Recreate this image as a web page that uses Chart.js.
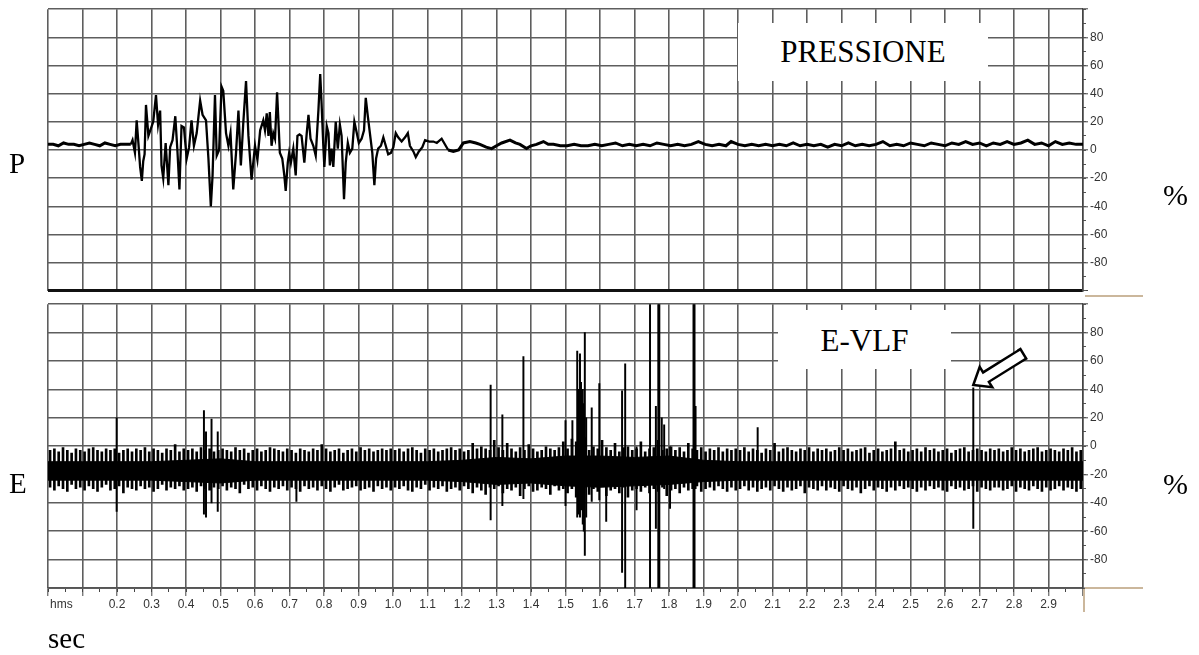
<!DOCTYPE html>
<html>
<head>
<meta charset="utf-8">
<script src="https://cdn.jsdelivr.net/npm/chart.js@4.4.1/dist/chart.umd.min.js"></script>
<style>
    html, body { margin: 0; padding: 0; background: #fff; }
    #page { position: relative; width: 1199px; height: 655px; overflow: hidden;
            font-family: "Liberation Serif", "Times New Roman", serif; color: #000; }
    canvas { position: absolute; left: 0; }
    #chartP { top: 0; }
    #chartE { top: 295px; }
    .lbl { position: absolute; font-size: 29px; line-height: 1; white-space: nowrap; }
    .box { position: absolute; background: #fff; text-align: center; font-size: 31px; }
    .tan { position: absolute; background: #cbb79c; }
    .hms { position: absolute; font: 12px "Liberation Sans", Arial, sans-serif; color: #333; }
</style>
</head>
<body>
<div id="page">
    <canvas id="chartP" width="1199" height="300"></canvas>
    <canvas id="chartE" width="1199" height="360"></canvas>

    <div class="box" style="left:738px; top:23px; width:250px; height:58px; line-height:58px;">PRESSIONE</div>
    <div class="box" style="left:778px; top:310px; width:173px; height:59px; line-height:61px;">E-VLF</div>

    <svg style="position:absolute; left:0; top:0;" width="1199" height="655">
        <polygon points="973.3,385 979.7,366.9 983.1,372.4 1020.4,349.1 1026.2,358.5 988.9,381.8 992.3,387.3"
                 fill="#fff" stroke="#000" stroke-width="2.5" stroke-linejoin="miter"/>
    </svg>

    <div class="tan" style="left:1085px; top:295px; width:58px; height:2px;"></div>
    <div class="tan" style="left:1085px; top:587px; width:58px; height:2px;"></div>
    <div class="tan" style="left:1083px; top:589px; width:2px; height:23px;"></div>

    <div class="lbl" style="left:9px; top:149px;">P</div>
    <div class="lbl" style="left:9px; top:469px;">E</div>
    <div class="lbl" style="left:1163px; top:180px; font-size:30px;">%</div>
    <div class="lbl" style="left:1163px; top:469px; font-size:30px;">%</div>
    <div class="lbl" style="left:48px; top:624px;">sec</div>
    <div class="hms" style="left:50px; top:597px;">hms</div>
</div>

<script>
// ---- data ----------------------------------------------------------------

// Pressure (%), [time s, value]
const pressQuiet = [
    [0.000,4],[0.015,4],[0.030,3],[0.045,5],[0.060,4],[0.075,4],[0.090,3],[0.105,4],
    [0.120,5],[0.135,4],[0.150,3],[0.165,5],[0.180,4],[0.195,3],[0.210,4],[0.225,4],[0.240,4]
];

const pressBurst = [
    [0.245,7],[0.252,-2],[0.257,21],[0.262,5],[0.267,-12],[0.272,-22],[0.276,-8],[0.280,-3],
    [0.284,32],[0.291,10],[0.298,15],[0.305,20],[0.313,39],[0.319,18],[0.325,28],[0.329,-11],
    [0.334,-20],[0.341,5],[0.349,-25],[0.354,2],[0.361,7],[0.369,24],[0.375,0],[0.381,-28],
    [0.387,17],[0.394,16],[0.402,-6],[0.409,2],[0.416,21],[0.423,3],[0.431,12],[0.441,35],
    [0.448,25],[0.458,21],[0.465,-6],[0.472,-40],[0.477,-18],[0.484,39],[0.489,-4],[0.496,0],
    [0.503,45],[0.508,42],[0.516,12],[0.523,3],[0.529,12],[0.537,-28],[0.545,-2],[0.552,28],
    [0.559,-11],[0.566,19],[0.574,49],[0.581,10],[0.590,-21],[0.600,3],[0.607,-7],[0.615,14],
    [0.624,21],[0.629,14],[0.634,26],[0.639,10],[0.643,27],[0.648,3],[0.653,12],[0.658,8],
    [0.664,41],[0.668,20],[0.672,-2],[0.679,-6],[0.685,-18],[0.689,-29],[0.695,-9],[0.699,-2],
    [0.704,-9],[0.711,1],[0.718,-18],[0.723,10],[0.729,11],[0.735,10],[0.743,-9],[0.750,12],
    [0.755,25],[0.761,8],[0.769,3],[0.776,-4],[0.784,29],[0.789,54],[0.793,33],[0.798,3],
    [0.801,-12],[0.808,17],[0.813,12],[0.817,-11],[0.822,1],[0.827,-12],[0.834,20],[0.840,1],
    [0.846,18],[0.851,10],[0.858,-35],[0.863,-9],[0.869,5],[0.875,-2],[0.882,1],[0.888,20],
    [0.895,12],[0.901,5],[0.909,8],[0.916,14],[0.921,37],[0.927,24],[0.933,12],[0.940,-2],
    [0.946,-25],[0.951,-6],[0.957,1],[0.965,3],[0.972,9],[0.979,3],[0.986,-3],[0.994,-2],
    [1.001,2],[1.008,12],[1.015,9],[1.025,6],[1.035,9],[1.043,12],[1.049,3],[1.059,-1],
    [1.066,-5],[1.075,-1],[1.085,2],[1.093,7],[1.105,6],[1.117,6],[1.127,5],[1.141,8]
];

const pressTail = [
    [1.160,0],[1.175,-1],[1.190,0],[1.204,5],[1.223,6],[1.240,5],[1.252,4],[1.270,2],
    [1.286,1],[1.300,3],[1.315,5],[1.339,7],[1.355,5],[1.368,4],[1.387,1],[1.400,3],
    [1.416,4],[1.436,6],[1.450,4],[1.465,4],[1.485,3],[1.505,3],[1.525,4],[1.545,3],
    [1.565,3],[1.585,4],[1.605,3],[1.625,4],[1.645,5],[1.665,3],[1.685,4],[1.705,3],
    [1.725,4],[1.745,3],[1.765,5],[1.785,4],[1.805,3],[1.825,4],[1.845,3],[1.865,4],
    [1.885,6],[1.905,4],[1.925,3],[1.945,4],[1.965,3],[1.980,6],[2.000,4],[2.020,3],
    [2.040,4],[2.060,3],[2.080,4],[2.100,3],[2.120,4],[2.140,3],[2.160,5],[2.180,3],
    [2.200,4],[2.220,3],[2.240,4],[2.260,2],[2.280,4],[2.300,3],[2.320,5],[2.340,3],
    [2.360,4],[2.380,3],[2.400,4],[2.420,6],[2.440,3],[2.460,4],[2.480,3],[2.500,5],
    [2.520,4],[2.540,3],[2.560,5],[2.580,4],[2.600,3],[2.620,5],[2.640,4],[2.660,6],
    [2.680,4],[2.700,5],[2.720,3],[2.740,5],[2.760,4],[2.780,6],[2.800,4],[2.820,5],
    [2.840,7],[2.860,4],[2.880,5],[2.900,3],[2.920,6],[2.940,4],[2.960,5],[2.980,4],[3.000,4]
];

// E-VLF (%): one oscillation cycle every 12.5 ms, upper and lower peak of each cycle
const evlfStart = 0.006;
const evlfStep = 0.0125;

const evlfTop = [
    -3,-2,-4,-1,-3,-5,-2,-3,-4,-2,-1,-3,-4,-2,-3,-2,-5,-3,-2,-4,
    -2,-3,-1,-4,-2,-3,-5,-2,-3,1,-4,-2,-3,-2,-4,-1,-3,-2,-4,-3,
    -2,-3,-4,-1,-3,-2,-5,-3,-2,-4,-3,-1,-2,-3,-4,-2,-3,-5,-2,-3,
    -4,-2,-3,1,-2,-4,-3,-2,-5,-3,-2,-4,-1,-3,-2,-4,-3,-2,-3,-2,
    -3,-2,-4,-2,-1,-3,-5,-2,-3,-2,-4,-3,-2,-1,-3,-2,-4,-3,2,-2,
    0,-2,-3,4,-1,-3,2,-2,-4,-1,-3,1,-2,-4,-3,0,-2,-3,-1,3,
    -2,5,3,-1,6,-3,0,-2,4,-1,-3,2,-4,-1,0,-3,-2,3,-4,-2,
    -1,4,-3,-2,0,-3,-1,-4,2,-2,-3,-1,-4,-2,-3,-1,-4,-2,-3,-2,
    -3,-1,-4,-2,-3,-5,-2,-3,2,-4,-2,-1,-3,-4,-2,-3,-1,-4,-2,-3,
    -2,-4,-3,-1,-3,-2,-4,-3,-2,-1,-5,-3,-2,-4,-3,-2,3,-3,-2,-4,
    -3,-2,-4,-1,-3,-2,-4,-3,-2,-5,-3,-2,-1,-4,-3,-2,-3,-4,-2,-3,
    -2,-4,-3,-1,-3,-2,-4,-3,-2,-1,-4,-3,-2,-3,-4,-2,-3,-1,-4,-3
];

const evlfBot = [
    -29,-31,-28,-30,-32,-27,-30,-29,-31,-28,-30,-32,-29,-27,-31,-30,-28,-33,-29,-30,
    -31,-28,-30,-29,-32,-30,-27,-31,-29,-30,-28,-31,-30,-29,-32,-28,-30,-31,-29,-30,
    -28,-31,-29,-30,-33,-27,-30,-29,-31,-28,-30,-32,-29,-30,-28,-31,-29,-30,-32,-28,
    -30,-29,-31,-28,-30,-32,-29,-27,-31,-30,-29,-28,-31,-30,-29,-32,-28,-30,-29,-31,
    -29,-30,-28,-31,-32,-29,-30,-27,-31,-29,-30,-28,-32,-30,-29,-31,-28,-30,-33,-29,
    -31,-34,-29,-30,-28,-33,-30,-31,-29,-35,-30,-28,-32,-31,-29,-30,-34,-28,-31,-30,
    -33,-30,-36,-31,-29,-34,-30,-32,-28,-35,-31,-30,-33,-29,-36,-31,-30,-32,-29,-33,
    -30,-32,-29,-35,-31,-30,-33,-29,-31,-30,-28,-32,-30,-29,-31,-28,-30,-32,-29,-31,
    -30,-28,-31,-29,-32,-30,-29,-31,-28,-30,-32,-29,-31,-30,-28,-33,-29,-30,-31,-28,
    -31,-29,-30,-32,-28,-30,-31,-29,-33,-30,-28,-31,-29,-30,-32,-29,-31,-28,-30,-29,
    -30,-32,-29,-31,-28,-30,-29,-31,-32,-28,-30,-29,-31,-30,-28,-32,-29,-30,-31,-29,
    -29,-31,-30,-28,-32,-29,-30,-31,-28,-30,-32,-29,-31,-30,-28,-31,-29,-30,-32,-30
];

// dense core of the E-VLF band, sampled every 0.1 s
const evlfCoreHi = [-11,-11,-11,-11,-10,-9,-11,-11,-11,-11,-11,-11,-10,-8,-9,-7,
                    -7,-8,-7,-10,-11,-11,-11,-11,-11,-11,-11,-11,-11,-11,-11];
const evlfCoreLo = [-24,-24,-24,-24,-25,-26,-24,-24,-24,-24,-24,-24,-25,-27,-26,-28,
                    -29,-28,-27,-25,-24,-24,-24,-24,-24,-24,-24,-24,-24,-24,-24];

// isolated E-VLF spikes
const spikeTimes = [0.199,0.452,0.458,0.474,0.492,0.720,1.283,1.317,1.378,1.500,1.520,1.534,1.537,
                    1.542,1.545,1.550,1.553,1.556,1.560,1.576,1.598,1.618,1.664,1.673,1.706,1.745,
                    1.762,1.769,1.772,1.779,1.786,1.803,1.871,1.874,1.877,2.057,2.682];
const spikeHigh  = [20,25,10,19,10,-15,43,22,63,18,18,67,40,65,45,40,30,80,20,27,44,-10,39,58,0,100,
                    28,100,100,20,15,0,100,100,28,13,41];
const spikeLow   = [-46,-48,-50,-40,-46,-39,-52,-42,-37,-42,-25,-50,-48,-50,-45,-55,-60,-77,-50,-39,
                    -38,-53,-89,-100,-45,-100,-58,-100,-100,-25,-30,-44,-100,-100,-30,-25,-58];

// ---- shared axis setup -----------------------------------------------------

const GRID = '#5e5e5e';
const TICK_FONT = { family: 'Liberation Sans', size: 12 };

function percentAxes(bottomColor, bottomWidth) {
    return {
        y: {
            position: 'right', weight: 1, min: -100, max: 100,
            ticks: {
                stepSize: 20, padding: 2, color: '#333', font: TICK_FONT,
                callback: v => (Math.abs(v) < 100 ? String(v) : '')
            },
            grid: {
                color: c => (c.tick.value === -100 ? bottomColor : GRID),
                lineWidth: c => (c.tick.value === -100 ? bottomWidth : 1.6),
                tickLength: 5, tickColor: '#444', tickWidth: 1
            },
            border: { display: true, color: '#444', width: 1.5 },
            afterFit: s => { s.width = 30; }
        },
        yMinor: {
            position: 'right', weight: 0, min: -100, max: 100,
            ticks: { stepSize: 10, display: false },
            grid: { drawOnChartArea: false, tickLength: 3, tickColor: '#555', tickWidth: 1 },
            border: { display: false },
            afterFit: s => { s.width = 0; }
        }
    };
}

const baseOptions = {
    responsive: false,
    animation: false,
    events: [],
    plugins: { legend: { display: false }, tooltip: { enabled: false } }
};

// ---- upper chart: pressure ---------------------------------------------------

const toXY = list => list.map(([x, y]) => ({ x, y }));
// burst segment is joined to the quiet parts on both sides
const burstJoined = [pressQuiet[pressQuiet.length - 1], ...pressBurst, pressTail[0]];

function pressSet(points, width) {
    return { data: toXY(points), xAxisID: 'x', yAxisID: 'y', borderColor: '#000',
             borderWidth: width, pointRadius: 0, tension: 0 };
}

new Chart(document.getElementById('chartP'), {
    type: 'line',
    data: {
        datasets: [
            pressSet(pressQuiet, 3),
            pressSet(burstJoined, 2.3),
            pressSet(pressTail, 3)
        ]
    },
    options: {
        ...baseOptions,
        layout: { padding: { left: 48, top: 8, right: 86, bottom: 5 } },
        scales: {
            x: {
                type: 'linear', min: 0, max: 3,
                ticks: { stepSize: 0.1, display: false },
                grid: { color: GRID, lineWidth: 1.6, drawTicks: false },
                border: { display: false },
                afterFit: s => { s.height = 0; }
            },
            ...percentAxes('#111', 3)
        }
    }
});

// ---- lower chart: E-VLF ------------------------------------------------------

const n = Math.min(evlfTop.length, evlfBot.length);
const cycles = [];
for (let i = 0; i < n; i++) {
    const t = +(evlfStart + i * evlfStep).toFixed(4);
    cycles.push({ x: t, y: [evlfBot[i], evlfTop[i]] });
}
const coreHi = evlfCoreHi.map((v, i) => ({ x: +(i * 0.1).toFixed(1), y: v }));
const coreLo = evlfCoreLo.map((v, i) => ({ x: +(i * 0.1).toFixed(1), y: v }));
const spikes = spikeTimes.map((t, i) => ({ x: t, y: [spikeLow[i], spikeHigh[i]] }));

const onAxes = { xAxisID: 'x', yAxisID: 'y' };

new Chart(document.getElementById('chartE'), {
    type: 'bar',
    data: {
        datasets: [
            { ...onAxes, type: 'line', data: coreHi, borderColor: '#000', borderWidth: 1,
              backgroundColor: '#000', pointRadius: 0, fill: '+1' },
            { ...onAxes, type: 'line', data: coreLo, borderColor: '#000', borderWidth: 1,
              pointRadius: 0, fill: false },
            { ...onAxes, data: cycles, backgroundColor: '#000', borderWidth: 0,
              barThickness: 2, grouped: false },
            { ...onAxes, data: spikes, backgroundColor: '#000', borderWidth: 0,
              barThickness: 1.3, grouped: false }
        ]
    },
    options: {
        ...baseOptions,
        layout: { padding: { left: 48, top: 5, right: 86, bottom: 37 } },
        scales: {
            xMinor: {
                type: 'linear', position: 'bottom', weight: 0, min: 0, max: 3, offset: false,
                ticks: { stepSize: 0.05, display: false },
                grid: { drawOnChartArea: false, offset: false, tickLength: 4, tickColor: '#444' },
                border: { display: false },
                afterFit: s => { s.height = 0; }
            },
            x: {
                type: 'linear', position: 'bottom', weight: 1, min: 0, max: 3, offset: false,
                ticks: {
                    stepSize: 0.1, autoSkip: false, maxRotation: 0, padding: 1,
                    color: '#333', font: TICK_FONT,
                    callback: v => {
                        const k = Math.round(v * 10);
                        return (k >= 2 && k <= 29) ? (k / 10).toFixed(1) : '';
                    }
                },
                grid: { color: GRID, lineWidth: 1.6, offset: false,
                        tickLength: 8, tickColor: '#444', tickWidth: 1 },
                border: { display: true, color: '#555', width: 1.5 },
                afterFit: s => { s.height = 30; }
            },
            ...percentAxes('#666', 2)
        }
    }
});
</script>
</body>
</html>
